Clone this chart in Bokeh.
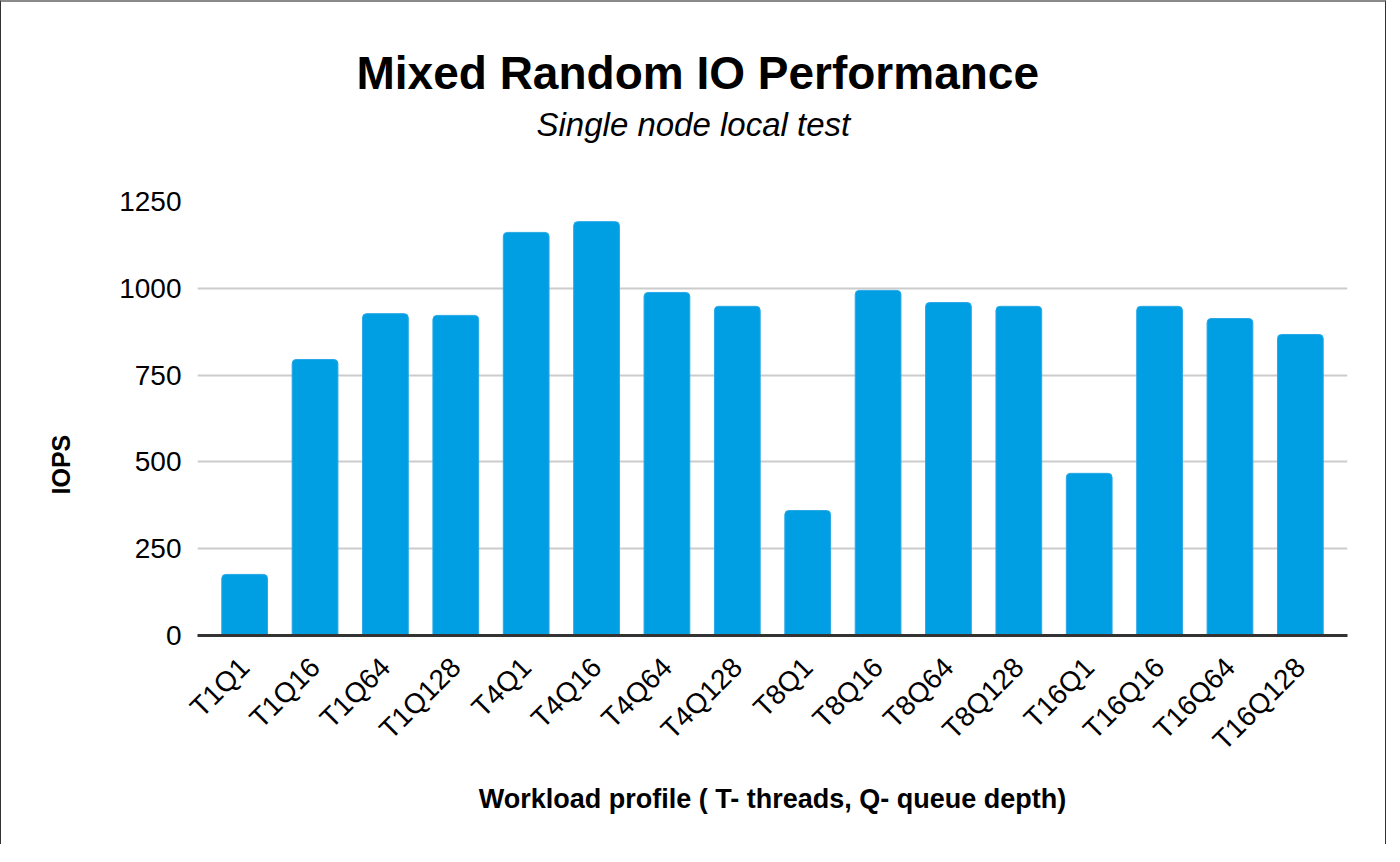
from bokeh.plotting import figure
from bokeh.models import Range1d, FactorRange, Title, ColumnDataSource, FixedTicker
from bokeh.embed import file_html
from bokeh.resources import INLINE
import math

categories = ["T1Q1", "T1Q16", "T1Q64", "T1Q128", "T4Q1", "T4Q16", "T4Q64", "T4Q128",
              "T8Q1", "T8Q16", "T8Q64", "T8Q128", "T16Q1", "T16Q16", "T16Q64", "T16Q128"]
iops = [176, 795, 927, 922, 1161, 1192, 988, 948, 360, 994, 959, 948, 467, 948, 913, 867]
y_ticks = [0, 250, 500, 750, 1000, 1250]

FONT = "Liberation Sans"

p = figure(width=1386, height=844,
           x_range=FactorRange(*categories, range_padding=0.17, range_padding_units="absolute"),
           y_range=Range1d(0, 1250), output_backend="svg", toolbar_location=None,
           title=None,
           min_border_left=196, min_border_right=40, min_border_top=199, min_border_bottom=211,
           styles={"border-top": "2px solid #8a8a8a", "border-left": "1px solid #333",
                   "border-right": "1px solid #333"})

src = ColumnDataSource(dict(x=categories, top=iops))
p.vbar(x="x", top="top", width=0.65, source=src, fill_color="#009FE3",
       line_color="#2aa8e6", line_width=1, border_radius=[4, 4, 0, 0])

p.outline_line_color = None
p.background_fill_color = "white"
p.border_fill_color = "white"

# grid
p.xgrid.grid_line_color = None
p.ygrid.grid_line_color = "#cccccc"
p.ygrid.grid_line_width = 2
p.ygrid.ticker = FixedTicker(ticks=y_ticks)

# y axis
p.yaxis.ticker = FixedTicker(ticks=y_ticks)
p.yaxis.axis_line_color = None
p.yaxis.major_tick_line_color = None
p.yaxis.minor_tick_line_color = None
p.yaxis.major_tick_out = 0
p.yaxis.major_label_standoff = 16
p.yaxis.major_label_text_font = FONT
p.yaxis.major_label_text_font_size = "28px"
p.yaxis.major_label_text_color = "#000000"

# x axis
p.xaxis.axis_line_color = "#333333"
p.xaxis.axis_line_width = 3
p.xaxis.major_tick_line_color = None
p.xaxis.minor_tick_line_color = None
p.xaxis.major_tick_out = 0
p.xaxis.major_label_orientation = math.pi / 4
p.xaxis.major_label_standoff = 27
p.xaxis.major_label_text_font = FONT
p.xaxis.major_label_text_font_size = "28px"
p.xaxis.major_label_text_color = "#000000"
p.xaxis.axis_label = "Workload profile ( T- threads, Q- queue depth)"
p.xaxis.axis_label_text_font = FONT
p.xaxis.axis_label_text_font_size = "27px"
p.xaxis.axis_label_text_font_style = "bold"
p.xaxis.axis_label_text_color = "#000000"
p.xaxis.axis_label_standoff = 14

# titles (stacked outward from the frame: spacer, subtitle, title)
p.add_layout(Title(text=" ", text_font=FONT, text_font_size="2px", standoff=53), "above")
p.add_layout(Title(text="Single node local test", align="left", offset=339,
                   text_font=FONT, text_font_size="33px", text_font_style="italic",
                   text_color="#000000", standoff=4), "above")
p.add_layout(Title(text="Mixed Random IO Performance", align="left", offset=159,
                   text_font=FONT, text_font_size="46px", text_font_style="bold",
                   text_color="#000000", standoff=6), "above")

# y axis title
p.add_layout(Title(text="IOPS", align="left", offset=141,
                   text_font=FONT, text_font_size="25px", text_font_style="bold",
                   text_color="#000000", standoff=83), "left")

open("out.html", "w").write(file_html(p, INLINE))
